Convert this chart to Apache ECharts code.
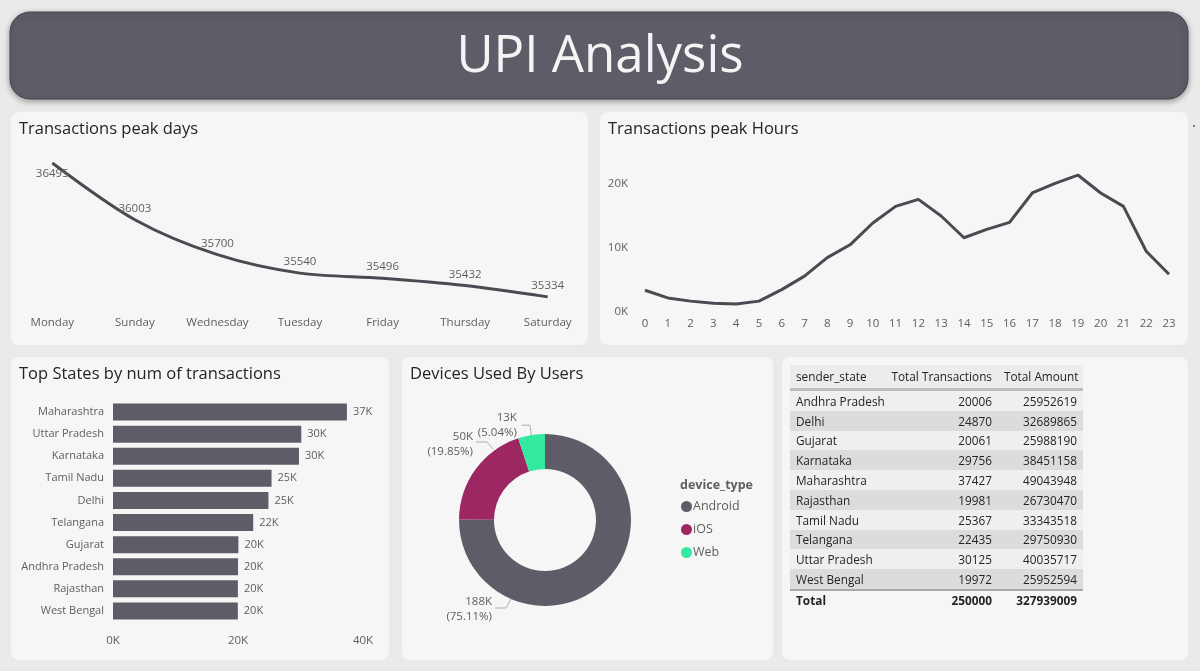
<!DOCTYPE html>
<html>
<head>
<meta charset="utf-8">
<script src="https://cdn.jsdelivr.net/npm/echarts@6/dist/echarts.min.js"></script>
<style>
  body { margin:0; background:#eaeaea; font-family:"Open Sans", sans-serif; }
  #main { position:absolute; left:0; top:0; width:1200px; height:671px; }
  #tbl { position:absolute; left:790px; top:365px; width:293px; table-layout:fixed; border-collapse:collapse; font-size:11.8px; color:#252423; }
  #tbl th { font-weight:normal; background:#ececec; padding:3px 6px 4px 6px; border-bottom:3px solid #bdbdbd; white-space:nowrap; overflow:visible; }
  #tbl td { padding:1px 6px; height:17.8px; white-space:nowrap; }
  #tbl tr.odd td { background:#efefef; }
  #tbl tr.even td { background:#dcdcde; }
  #tbl tr.last td { border-bottom:2px solid #a9a9a9; }
  #tbl tr.total td { font-weight:bold; background:transparent; height:15px; }
  .num { text-align:right; }
</style>
</head>
<body>
<div id="main"></div>
<table id="tbl"></table>
<script>
// peak days
var dayNames = ['Monday','Sunday','Wednesday','Tuesday','Friday','Thursday','Saturday'];
var dayCounts = [36495, 36003, 35700, 35540, 35496, 35432, 35334];

// peak hours
var hours = ['0','1','2','3','4','5','6','7','8','9','10','11','12','13','14','15','16','17','18','19','20','21','22','23'];
var hourCounts = [3400, 2200, 1700, 1350, 1250, 1700, 3500, 5600, 8500, 10500, 13900, 16500,
                  17600, 15000, 11600, 12900, 14000, 18600, 20100, 21400, 18600, 16500, 9500, 5900];

// top states
var stateNames = ['Maharashtra','Uttar Pradesh','Karnataka','Tamil Nadu','Delhi','Telangana','Gujarat','Andhra Pradesh','Rajasthan','West Bengal'];
var stateCounts = [37427, 30125, 29756, 25367, 24870, 22435, 20061, 20006, 19981, 19972];

// devices
var deviceNames = ['Android','iOS','Web'];
var deviceCounts = [187775, 49625, 12600];
var deviceColors = ['#5f5c67','#9c2762','#33e9a0'];

// table
var tblStates = ['Andhra Pradesh','Delhi','Gujarat','Karnataka','Maharashtra','Rajasthan','Tamil Nadu','Telangana','Uttar Pradesh','West Bengal'];
var tblTrans = [20006, 24870, 20061, 29756, 37427, 19981, 25367, 22435, 30125, 19972];
var tblAmount = [25952619, 32689865, 25988190, 38451158, 49043948, 26730470, 33343518, 29750930, 40035717, 25952594];

var fontFam = '"Open Sans", sans-serif';
var grey = '#605e5c';

function kfmt(v) { return Math.round(v / 1000) + 'K'; }

var chart = echarts.init(document.getElementById('main'));

var panels = [
    [11, 112, 577, 233],
    [600, 112, 588, 233],
    [11, 357, 378, 303],
    [402, 357, 371, 303],
    [782, 357, 406, 303]
];
var graphics = [{
    type: 'rect',
    shape: { x: 10, y: 12, width: 1178, height: 87, r: 20 },
    style: { fill: '#5f5c67', stroke: '#45434b', lineWidth: 1, shadowBlur: 6, shadowColor: 'rgba(0,0,0,0.35)', shadowOffsetY: 2 }
}, {
    type: 'text',
    x: 600, y: 57,
    style: { text: 'UPI Analysis', fill: '#f4f4f4', font: '51px ' + fontFam, align: 'center', verticalAlign: 'middle' }
}, {
    type: 'circle',
    shape: { cx: 1194, cy: 126, r: 1 },
    style: { fill: '#555' }
}];
panels.forEach(function (p) {
    graphics.push({
        type: 'rect',
        shape: { x: p[0], y: p[1], width: p[2], height: p[3], r: 8 },
        style: { fill: '#f6f6f6' },
        z: -1
    });
});

function ttl(text, left, top) {
    return { text: text, left: left, top: top, padding: 0,
        textStyle: { fontSize: 16.5, fontWeight: 'normal', color: '#252423', fontFamily: fontFam } };
}

var dayData = dayCounts.map(function (v, i) {
    return i === 0 ? { value: v, label: { position: 'bottom' } } : v;
});

// pie labels placed where the original report puts them
var pieLabelSpots = {
    0: { x: 492, y: 609, line: [[511, 599], [506, 608], [495, 608]] },
    1: { x: 473, y: 444, line: [[493, 449], [487, 442], [476, 442]] }
};

var option = {
    animation: false,
    textStyle: { fontFamily: fontFam },
    graphic: graphics,
    title: [
        ttl('Transactions peak days', 19, 121),
        ttl('Transactions peak Hours', 608, 121),
        ttl('Top States by num of transactions', 19, 366),
        ttl('Devices Used By Users', 410, 366),
        { text: 'device_type', left: 680, top: 479, padding: 0,
          textStyle: { fontSize: 12.5, fontWeight: 'bold', color: grey, fontFamily: fontFam } }
    ],
    grid: [
        { left: 11, top: 140, width: 578, height: 170 },
        { left: 645, top: 152, width: 524, height: 160 },
        { left: 113, top: 401, width: 250, height: 221 }
    ],
    xAxis: [{
        gridIndex: 0, type: 'category', data: dayNames,
        axisLine: { show: false }, axisTick: { show: false },
        axisLabel: { color: grey, fontSize: 11.5, margin: 7 }
    }, {
        gridIndex: 1, type: 'category', data: hours, boundaryGap: false,
        axisLine: { show: false }, axisTick: { show: false },
        axisLabel: { color: grey, fontSize: 11.5, margin: 6, interval: 0 }
    }, {
        gridIndex: 2, type: 'value', min: 0, max: 40000, interval: 20000,
        splitLine: { show: false },
        axisLabel: { color: grey, fontSize: 11.5, margin: 13, formatter: kfmt }
    }],
    yAxis: [{
        gridIndex: 0, type: 'value', min: 35220, max: 36695, show: false
    }, {
        gridIndex: 1, type: 'value', min: 0, max: 25000, interval: 10000,
        splitLine: { show: false }, axisLine: { show: false }, axisTick: { show: false },
        axisLabel: { color: grey, fontSize: 11.5, margin: 17,
            formatter: function (v) { return v % 10000 === 0 ? kfmt(v) : ''; } }
    }, {
        gridIndex: 2, type: 'category', data: stateNames, inverse: true,
        axisLine: { show: false }, axisTick: { show: false },
        axisLabel: { color: grey, fontSize: 11, margin: 9 }
    }],
    legend: {
        data: deviceNames, orient: 'vertical', left: 676, top: 495,
        icon: 'circle', itemWidth: 11, itemHeight: 11, itemGap: 10,
        textStyle: { color: grey, fontSize: 12.5, padding: [0, 0, 0, -4] }
    },
    series: [{
        type: 'line', xAxisIndex: 0, yAxisIndex: 0, data: dayData,
        smooth: 0.3, showSymbol: true, symbol: 'circle', symbolSize: 0,
        lineStyle: { color: '#4b4a52', width: 3 },
        itemStyle: { color: '#4b4a52' },
        label: { show: true, position: 'top', distance: 5, color: grey, fontSize: 11.5 }
    }, {
        type: 'line', xAxisIndex: 1, yAxisIndex: 1, data: hourCounts,
        showSymbol: false, symbol: 'none',
        lineStyle: { color: '#4b4a52', width: 3 }
    }, {
        type: 'bar', xAxisIndex: 2, yAxisIndex: 2, data: stateCounts,
        barWidth: 17, itemStyle: { color: '#5f5c67' },
        label: { show: true, position: 'right', distance: 6, color: grey, fontSize: 11, formatter: function (p) { return kfmt(p.value); } }
    }, {
        type: 'pie', center: [545, 520], radius: [51, 86],
        startAngle: 90, clockwise: true,
        data: deviceNames.map(function (n, i) {
            return { name: n, value: deviceCounts[i], itemStyle: { color: deviceColors[i] } };
        }),
        label: {
            color: grey, fontSize: 11.5, lineHeight: 15, align: 'right',
            formatter: function (p) { return kfmt(p.value) + '\n(' + p.percent.toFixed(2) + '%)'; }
        },
        percentPrecision: 2,
        labelLine: { length: 10, length2: 8, lineStyle: { color: '#b3b0ad', width: 1 } },
        labelLayout: function (p) {
            var s = pieLabelSpots[p.dataIndex];
            if (!s) return {};
            return { x: s.x, y: s.y, align: 'right', verticalAlign: 'middle', labelLinePoints: s.line };
        }
    }]
};
chart.setOption(option);

// table
var tbl = document.getElementById('tbl');
var html = '<colgroup><col style="width:95px"><col style="width:113px"><col style="width:85px"></colgroup>' +
    '<tr><th style="text-align:left">sender_state</th><th class="num">Total Transactions</th><th class="num">Total Amount</th></tr>';
var sumT = 0, sumA = 0;
tblStates.forEach(function (s, i) {
    sumT += tblTrans[i]; sumA += tblAmount[i];
    var cls = (i % 2 === 0 ? 'odd' : 'even') + (i === tblStates.length - 1 ? ' last' : '');
    html += '<tr class="' + cls + '"><td>' + s + '</td><td class="num">' + tblTrans[i] + '</td><td class="num">' + tblAmount[i] + '</td></tr>';
});
html += '<tr class="total"><td>Total</td><td class="num">' + sumT + '</td><td class="num">' + sumA + '</td></tr>';
tbl.innerHTML = html;
</script>
</body>
</html>
